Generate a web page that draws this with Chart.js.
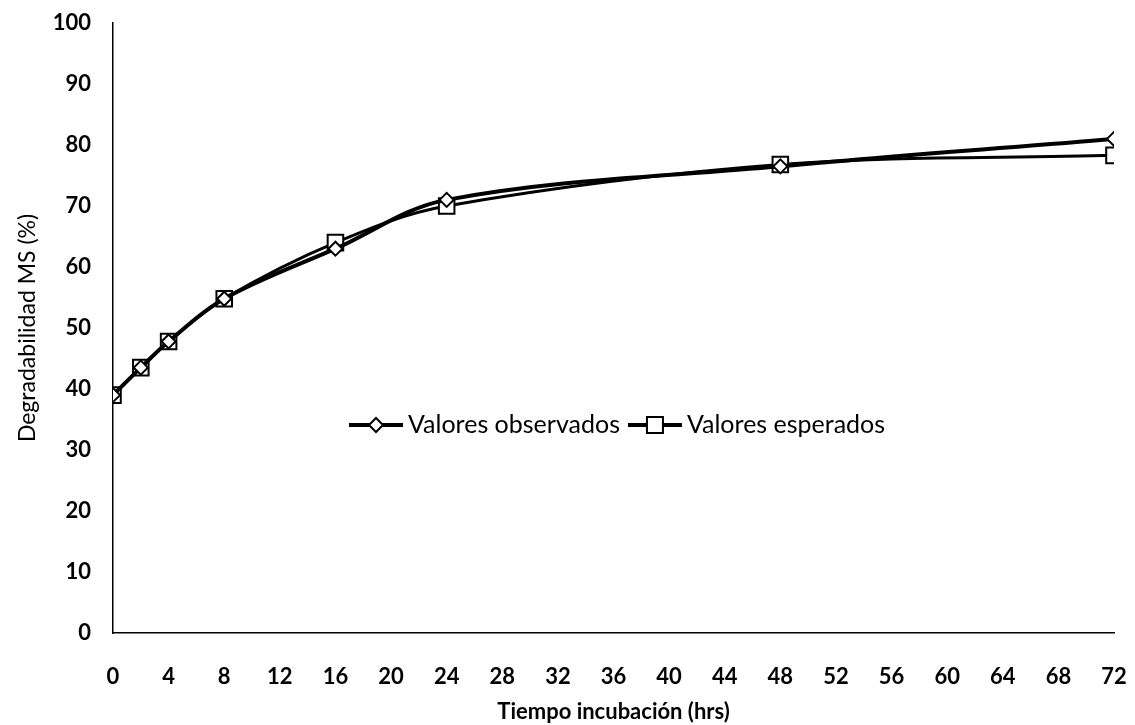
<!DOCTYPE html>
<html>
<head>
<meta charset="utf-8">
<script src="https://cdn.jsdelivr.net/npm/chart.js@4.4.0/dist/chart.umd.min.js"></script>
<style>
  html, body { margin: 0; padding: 0; background: #fff; }
  #contenedor { width: 1135px; height: 725px; }
</style>
</head>
<body>
<div id="contenedor"><canvas id="graficoDegradabilidad"></canvas></div>
<script>
const horas = [0, 2, 4, 8, 16, 24, 48, 72];
const valoresObservados = [39, 43.5, 47.8, 54.8, 63, 71, 76.5, 81];
const valoresEsperados = [39, 43.5, 47.8, 54.8, 64, 70, 76.8, 78.3];
const etiquetaX = "Tiempo incubación (hrs)";
const etiquetaY = "Degradabilidad MS (%)";

function unirPuntos(xs, ys) {
  return xs.map((x, i) => ({ x: x, y: ys[i] }));
}

// leyenda dentro del area del grafico, al centro
const leyendaInterna = {
  id: 'leyendaInterna',
  afterDatasetsDraw(chart) {
    const ctx = chart.ctx;
    const y = 425;
    let x = 349;
    ctx.save();
    ctx.font = '25px Lato';
    ctx.textBaseline = 'middle';
    ctx.fillStyle = '#000';
    chart.data.datasets.forEach((ds, i) => {
      ctx.strokeStyle = '#000';
      ctx.lineWidth = 4;
      ctx.beginPath();
      ctx.moveTo(x, y);
      ctx.lineTo(x + 54, y);
      ctx.stroke();
      const cx = x + 27;
      ctx.lineWidth = 2;
      ctx.fillStyle = '#fff';
      ctx.beginPath();
      if (ds.pointStyle === 'rectRot') {
        ctx.moveTo(cx, y - 7);
        ctx.lineTo(cx + 7, y);
        ctx.lineTo(cx, y + 7);
        ctx.lineTo(cx - 7, y);
        ctx.closePath();
      } else {
        ctx.rect(cx - 8, y - 8, 16, 16);
      }
      ctx.fill();
      ctx.stroke();
      ctx.fillStyle = '#000';
      ctx.fillText(ds.label, x + 59, y);
      x += 59 + ctx.measureText(ds.label).width + 8;
    });
    ctx.restore();
  }
};

const graficoDegradabilidad = document.getElementById("graficoDegradabilidad");
const grafico = new Chart(graficoDegradabilidad, {
  type: 'line',
  data: {
    datasets: [{
      label: 'Valores observados',
      data: unirPuntos(horas, valoresObservados),
      borderColor: '#000',
      borderWidth: 4,
      pointStyle: 'rectRot',
      pointRadius: 7,
      pointBorderWidth: 2,
      pointBackgroundColor: '#fff',
      pointBorderColor: '#000',
      tension: 0.35
    }, {
      label: 'Valores esperados',
      data: unirPuntos(horas, valoresEsperados),
      borderColor: '#000',
      borderWidth: 3,
      pointStyle: 'rect',
      pointRadius: 11,
      pointBorderWidth: 2,
      pointBackgroundColor: '#fff',
      pointBorderColor: '#000',
      tension: 0.35
    }]
  },
  options: {
    responsive: true,
    maintainAspectRatio: false,
    animation: false,
    layout: { padding: { top: 23, right: 21, left: 0, bottom: 0 } },
    plugins: {
      legend: { display: false },
      tooltip: { enabled: false }
    },
    scales: {
      x: {
        type: 'linear',
        min: 0,
        max: 72,
        // sin lineas de rejilla; el largo de marca solo separa las etiquetas
        grid: { display: false, drawTicks: true, tickLength: 28 },
        border: { display: true, color: '#000', width: 1.5 },
        ticks: {
          stepSize: 4,
          padding: 3,
          color: '#000',
          maxRotation: 0,
          font: { family: 'Lato', size: 22, weight: 'bold' }
        },
        title: {
          display: true,
          text: etiquetaX,
          color: '#000',
          padding: { top: 0, bottom: 0 },
          font: { family: 'Lato', size: 22, weight: 'bold' }
        },
        afterFit(scale) { scale.height = 92; }
      },
      y: {
        min: 0,
        max: 100,
        grid: { display: false, drawTicks: true, tickLength: 19 },
        border: { display: true, color: '#000', width: 1.5 },
        ticks: {
          stepSize: 10,
          padding: 3,
          color: '#000',
          font: { family: 'Lato', size: 22, weight: 'bold' }
        },
        title: {
          display: true,
          text: etiquetaY,
          color: '#000',
          padding: { top: 14, bottom: 0 },
          font: { family: 'Lato', size: 23 }
        },
        afterFit(scale) { scale.width = 113; }
      }
    }
  },
  plugins: [leyendaInterna]
});
</script>
</body>
</html>
